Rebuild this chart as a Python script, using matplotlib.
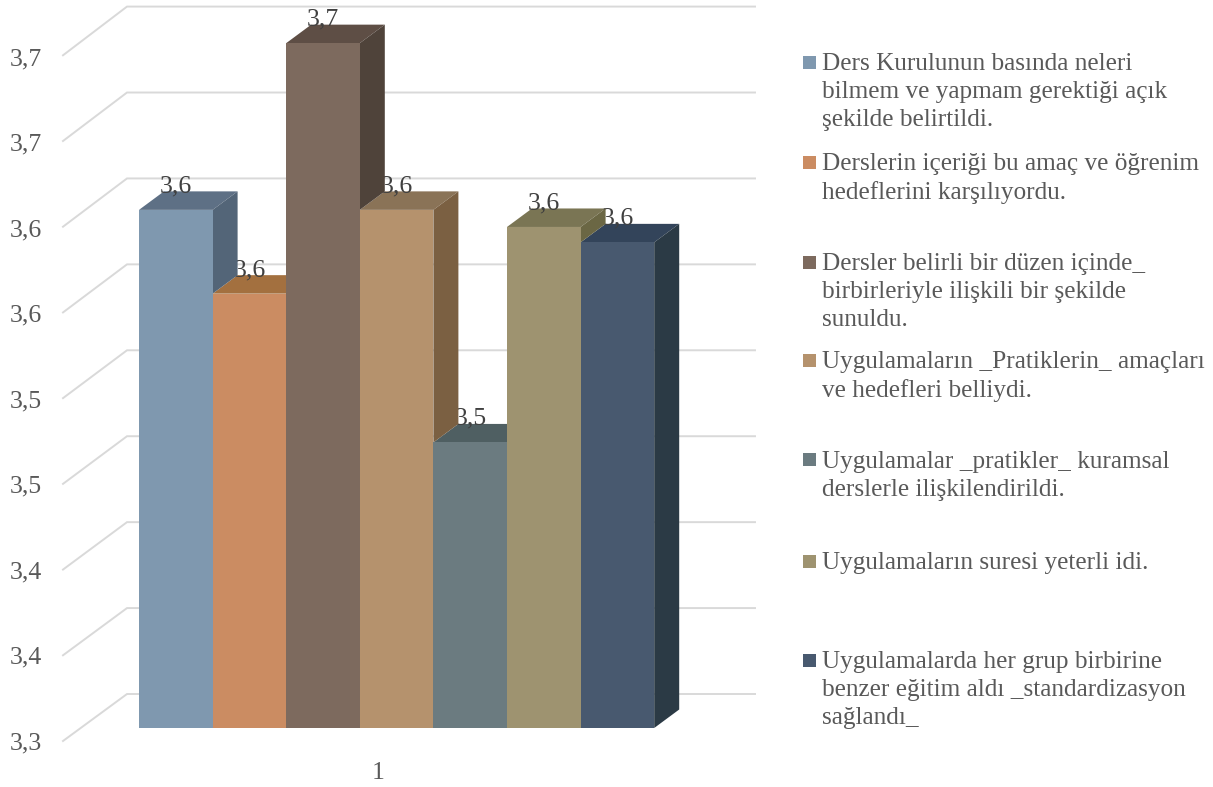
import matplotlib
matplotlib.use("Agg")
from matplotlib import pyplot as plt
from matplotlib.patches import Polygon, Rectangle

plt.rcParams['font.family'] = ['Liberation Serif', 'DejaVu Serif']

# veriler
values = [3.603, 3.554, 3.7005, 3.603, 3.467, 3.593, 3.584]
value_labels = ["3,6", "3,6", "3,7", "3,6", "3,5", "3,6", "3,6"]
tick_values = [3.30, 3.35, 3.40, 3.45, 3.50, 3.55, 3.60, 3.65, 3.70, 3.75]
tick_labels = ["3,3", "3,4", "3,4", "3,5", "3,5", "3,6", "3,6", "3,7", "3,7", ""]
category = "1"
series_names = [
    "Ders Kurulunun basında neleri\nbilmem ve yapmam gerektiği açık\nşekilde belirtildi.",
    "Derslerin içeriği bu amaç ve öğrenim\nhedeflerini karşılıyordu.",
    "Dersler belirli bir düzen içinde_\nbirbirleriyle ilişkili bir şekilde\nsunuldu.",
    "Uygulamaların _Pratiklerin_ amaçları\nve hedefleri belliydi.",
    "Uygulamalar _pratikler_ kuramsal\nderslerle ilişkilendirildi.",
    "Uygulamaların suresi yeterli idi.",
    "Uygulamalarda her grup birbirine\nbenzer eğitim aldı _standardizasyon\nsağlandı_",
]

# renkler
front_colors = ["#7f98af", "#cb8c62", "#7d6a5e", "#b5926d", "#6b7b80", "#9e9370", "#48596f"]
top_colors = ["#5e7085", "#a3703f", "#5e4e45", "#8a7357", "#4f5f62", "#7a7554", "#33445a"]
side_colors = ["#536578", "#8a5f38", "#4f433a", "#7b6042", "#45555a", "#6b6744", "#2b3a45"]
grid_color = "#d9d9d9"
text_color = "#595959"

# olcekler: 1 birim deger = 1710 piksel, taban 728. pikselde
W, H = 1213, 787
base = 3.3
py = 1710.0

fig = plt.figure(figsize=(W / 100, H / 100), dpi=100)
ax = fig.add_axes([0, 0, 1, 1])
ax.set_xlim(0, W)
ax.set_ylim(base - (H - 728) / py, base + 728 / py)
ax.axis("off")

# izgara
for v, lab in zip(tick_values, tick_labels):
    y_back = v + 34 / py + (v - base) * 0.005
    y_front = v - 13 / py + (v - base) * 0.0025
    ax.plot([63, 127, 755], [y_front, y_back, y_back], color=grid_color, lw=1.4, zorder=1,
            solid_joinstyle="miter")
    ax.text(26, v - 15 / py, lab, ha="center", va="center", fontsize=18.5, color=text_color)

# cubuklar
bar_w = 73.6
left = 139
dx = 25
dy = 18.5 / py
for i, v in enumerate(values):
    x0 = left + i * bar_w
    x1 = x0 + bar_w
    low = base
    if i < len(values) - 1:
        low = min(v, values[i + 1])
    ax.add_patch(Polygon([(x0, v), (x1, v), (x1 + dx, v + dy), (x0 + dx, v + dy)],
                         facecolor=top_colors[i], edgecolor="none", zorder=3))
    ax.add_patch(Polygon([(x1, v), (x1 + dx, v + dy), (x1 + dx, low + dy), (x1, low)],
                         facecolor=side_colors[i], edgecolor="none", zorder=5))
    ax.bar(x0, v - base, bottom=base, width=bar_w, align="edge",
           color=front_colors[i], edgecolor="none", zorder=6)
    ax.text(x0 + 37, v + 23.5 / py, value_labels[i], ha="center", va="center",
            fontsize=18.5, color="#404040", zorder=4)

ax.text(378, base - 45 / py, category, ha="center", va="center", fontsize=18.5, color=text_color)

# lejant
legend_rows = [62, 162, 262, 360, 460, 561, 660]
for name, row, col in zip(series_names, legend_rows, front_colors):
    y = base + (728 - row) / py
    ax.add_patch(Rectangle((803, y - 6.5 / py), 13, 13 / py, facecolor=col, edgecolor="none"))
    ax.text(822, y + 9 / py, name, ha="left", va="top", fontsize=18.2, color=text_color,
            linespacing=1.34)

fig.savefig("out.png", dpi=100)
